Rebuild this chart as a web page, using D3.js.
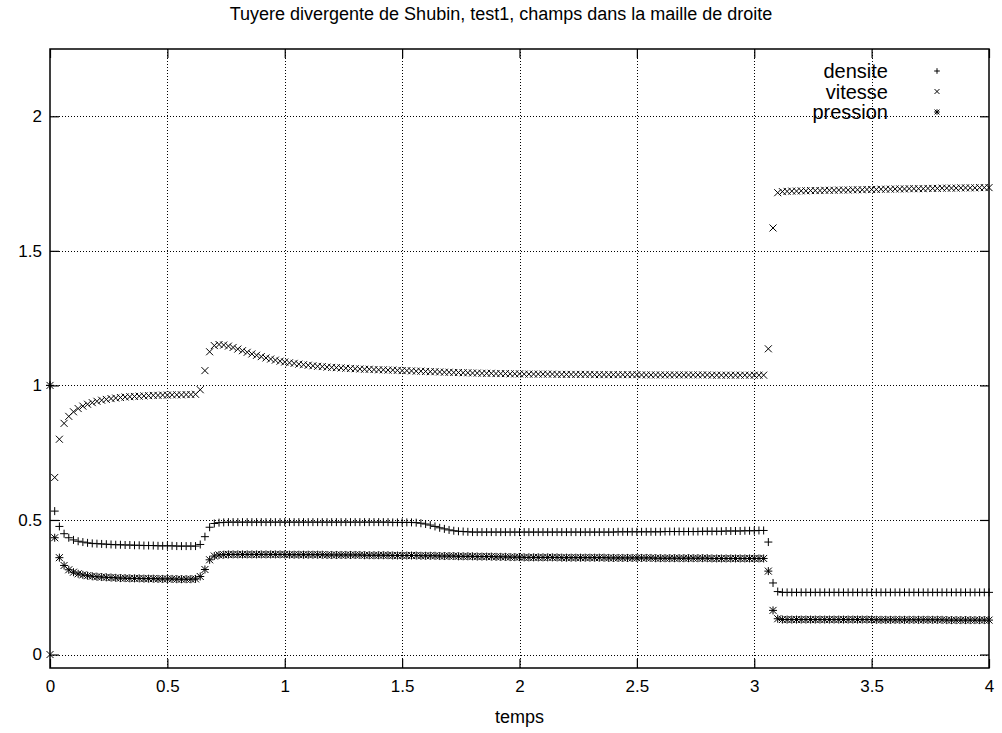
<!DOCTYPE html>
<html>
<head>
<meta charset="utf-8">
<script src="https://cdn.jsdelivr.net/npm/d3@7"></script>
<style>
  html, body { margin: 0; padding: 0; background: #fff; }
  svg { display: block; }
  text { font-family: "Liberation Sans", Arial, Helvetica, sans-serif; fill: #000; }
</style>
</head>
<body>
<script>
// ---------------- data ----------------
const title = "Tuyere divergente de Shubin, test1, champs dans la maille de droite";
const xLabel = "temps";
const timeStep = 0.02;           // output interval of the simulation (t = 0 ... 4)
const xTicks = [0, 0.5, 1, 1.5, 2, 2.5, 3, 3.5, 4];
const yTicks = [0, 0.5, 1, 1.5, 2];
const seriesNames = ["densite", "vitesse", "pression"];

const densite = [
  1.000,0.533,0.476,0.449,0.434,0.426,0.421,0.418,0.415,0.413,
  0.412,0.411,0.410,0.409,0.408,0.408,0.407,0.407,0.406,0.406,
  0.405,0.405,0.405,0.404,0.404,0.404,0.404,0.403,0.403,0.403,
  0.403,0.403,0.409,0.438,0.473,0.487,0.490,0.491,0.492,0.492,
  0.492,0.492,0.492,0.492,0.492,0.492,0.492,0.492,0.492,0.492,
  0.492,0.492,0.492,0.492,0.492,0.492,0.492,0.492,0.492,0.492,
  0.492,0.492,0.492,0.492,0.492,0.492,0.492,0.492,0.492,0.492,
  0.492,0.492,0.492,0.491,0.491,0.491,0.491,0.491,0.490,0.488,
  0.485,0.481,0.476,0.471,0.467,0.463,0.460,0.458,0.457,0.456,
  0.455,0.455,0.455,0.455,0.455,0.455,0.455,0.455,0.455,0.455,
  0.455,0.455,0.455,0.455,0.455,0.455,0.455,0.455,0.455,0.455,
  0.455,0.455,0.455,0.455,0.455,0.455,0.455,0.455,0.455,0.455,
  0.455,0.456,0.456,0.456,0.456,0.456,0.456,0.456,0.456,0.456,
  0.456,0.457,0.457,0.457,0.457,0.457,0.457,0.457,0.457,0.458,
  0.458,0.458,0.458,0.458,0.459,0.459,0.459,0.459,0.460,0.460,
  0.460,0.461,0.461,0.418,0.266,0.234,0.231,0.231,0.231,0.231,
  0.231,0.231,0.231,0.231,0.231,0.231,0.231,0.231,0.231,0.231,
  0.231,0.231,0.231,0.231,0.231,0.231,0.231,0.231,0.231,0.231,
  0.231,0.231,0.231,0.231,0.231,0.231,0.231,0.231,0.231,0.231,
  0.231,0.231,0.231,0.231,0.231,0.231,0.231,0.231,0.231,0.231,
  0.231
];

const vitesse = [
  0.000,0.658,0.800,0.859,0.885,0.902,0.914,0.923,0.930,0.936,
  0.941,0.945,0.948,0.951,0.953,0.955,0.957,0.958,0.959,0.960,
  0.961,0.962,0.963,0.963,0.964,0.964,0.965,0.965,0.965,0.966,
  0.966,0.967,0.984,1.055,1.125,1.148,1.152,1.150,1.146,1.141,
  1.135,1.129,1.123,1.117,1.112,1.107,1.102,1.098,1.094,1.090,
  1.087,1.084,1.082,1.079,1.077,1.075,1.073,1.071,1.070,1.068,
  1.067,1.066,1.065,1.064,1.063,1.062,1.061,1.060,1.060,1.059,
  1.058,1.058,1.057,1.057,1.056,1.055,1.055,1.054,1.053,1.053,
  1.052,1.051,1.051,1.050,1.049,1.049,1.048,1.048,1.047,1.047,
  1.046,1.046,1.045,1.045,1.045,1.044,1.044,1.044,1.043,1.043,
  1.043,1.042,1.042,1.042,1.042,1.042,1.042,1.042,1.041,1.041,
  1.041,1.041,1.041,1.041,1.041,1.041,1.040,1.040,1.040,1.040,
  1.040,1.040,1.040,1.040,1.040,1.040,1.039,1.039,1.039,1.039,
  1.039,1.039,1.039,1.039,1.039,1.039,1.039,1.039,1.039,1.039,
  1.039,1.038,1.038,1.038,1.038,1.038,1.038,1.038,1.038,1.038,
  1.038,1.038,1.038,1.136,1.585,1.716,1.720,1.721,1.722,1.722,
  1.723,1.723,1.724,1.724,1.724,1.725,1.725,1.725,1.726,1.726,
  1.726,1.727,1.727,1.727,1.728,1.728,1.728,1.729,1.729,1.729,
  1.730,1.730,1.730,1.731,1.731,1.731,1.731,1.732,1.732,1.732,
  1.733,1.733,1.733,1.733,1.734,1.734,1.734,1.734,1.735,1.735,
  1.735
];

const pression = [
  1.000,0.434,0.360,0.331,0.315,0.306,0.300,0.296,0.293,0.291,
  0.289,0.288,0.287,0.286,0.285,0.284,0.284,0.283,0.283,0.283,
  0.282,0.282,0.282,0.281,0.281,0.281,0.281,0.280,0.280,0.280,
  0.280,0.281,0.290,0.316,0.352,0.366,0.370,0.371,0.372,0.372,
  0.372,0.372,0.372,0.372,0.372,0.372,0.372,0.372,0.372,0.372,
  0.372,0.371,0.371,0.371,0.371,0.371,0.371,0.371,0.371,0.370,
  0.370,0.370,0.370,0.370,0.370,0.370,0.370,0.369,0.369,0.369,
  0.369,0.369,0.369,0.368,0.368,0.368,0.368,0.368,0.368,0.367,
  0.367,0.367,0.367,0.366,0.366,0.366,0.366,0.365,0.365,0.365,
  0.365,0.364,0.364,0.364,0.364,0.363,0.363,0.363,0.362,0.362,
  0.362,0.361,0.361,0.361,0.361,0.361,0.361,0.361,0.361,0.360,
  0.360,0.360,0.360,0.360,0.360,0.360,0.360,0.360,0.360,0.359,
  0.359,0.359,0.359,0.359,0.359,0.359,0.359,0.359,0.359,0.358,
  0.358,0.358,0.358,0.358,0.358,0.358,0.358,0.358,0.358,0.358,
  0.358,0.357,0.357,0.357,0.357,0.357,0.357,0.357,0.357,0.357,
  0.357,0.357,0.357,0.310,0.164,0.133,0.130,0.130,0.130,0.130,
  0.130,0.130,0.130,0.130,0.130,0.130,0.130,0.130,0.130,0.130,
  0.130,0.130,0.130,0.130,0.130,0.130,0.129,0.129,0.129,0.129,
  0.129,0.129,0.129,0.129,0.129,0.129,0.129,0.129,0.129,0.129,
  0.129,0.128,0.128,0.128,0.128,0.128,0.128,0.128,0.128,0.128,
  0.128
];

// ---------------- layout ----------------
const W = 1002, H = 733;
const plotL = 50, plotR = 989, plotT = 49, plotB = 668;

const x = d3.scaleLinear().domain([0, 4]).range([plotL, plotR]);
const y = d3.scaleLinear().domain([-0.05, 2.25]).range([plotB, plotT]);

const svg = d3.select("body").append("svg").attr("width", W).attr("height", H);

// grid (dotted)
const grid = svg.append("g").attr("stroke", "#000").attr("stroke-width", 1)
  .attr("stroke-dasharray", "1,2").attr("shape-rendering", "crispEdges");
grid.selectAll("line.gx").data(xTicks.filter(d => d > 0 && d < 4)).join("line")
  .attr("class", "gx")
  .attr("x1", d => Math.round(x(d)) + 0.5).attr("x2", d => Math.round(x(d)) + 0.5)
  .attr("y1", plotT).attr("y2", plotB);
grid.selectAll("line.gy").data(yTicks).join("line")
  .attr("class", "gy")
  .attr("y1", d => Math.round(y(d)) + 0.5).attr("y2", d => Math.round(y(d)) + 0.5)
  .attr("x1", plotL).attr("x2", plotR);

// axes with inward ticks, mirrored
const tickLen = 9;
const fmt = d => String(d);
const axB = svg.append("g").attr("transform", `translate(0,${plotB})`)
  .call(d3.axisBottom(x).tickValues(xTicks).tickSize(-tickLen).tickPadding(12).tickFormat(fmt));
const axT = svg.append("g").attr("transform", `translate(0,${plotT})`)
  .call(d3.axisTop(x).tickValues(xTicks).tickSize(-tickLen).tickFormat(""));
const axL = svg.append("g").attr("transform", `translate(${plotL},0)`)
  .call(d3.axisLeft(y).tickValues(yTicks).tickSize(-tickLen).tickPadding(8).tickFormat(fmt));
const axR = svg.append("g").attr("transform", `translate(${plotR},0)`)
  .call(d3.axisRight(y).tickValues(yTicks).tickSize(-tickLen).tickFormat(""));
[axB, axT, axL, axR].forEach(g => {
  g.select(".domain").remove();
  g.selectAll(".tick line").attr("stroke", "#000").attr("stroke-width", 1.2);
  g.selectAll("text").attr("font-family", "'Liberation Sans', Arial, sans-serif")
    .attr("font-size", 17).attr("fill", "#000");
});

// border
svg.append("rect").attr("x", plotL).attr("y", plotT)
  .attr("width", plotR - plotL).attr("height", plotB - plotT)
  .attr("fill", "none").attr("stroke", "#000").attr("stroke-width", 1.5);

// markers
const S = 4, SX = 3.5;
const plusPath = (px, py, s) => `M${px - s},${py}H${px + s}M${px},${py - s}V${py + s}`;
const timesPath = (px, py, s) => `M${px - s},${py - s}L${px + s},${py + s}M${px - s},${py + s}L${px + s},${py - s}`;
const markerFns = {
  densite: (px, py, k) => plusPath(px, py, S * k),
  vitesse: (px, py, k) => timesPath(px, py, SX * k),
  pression: (px, py, k) => plusPath(px, py, S * k) + timesPath(px, py, SX * k)
};
const seriesData = { densite, vitesse, pression };

const marks = svg.append("g").attr("fill", "none").attr("stroke", "#000").attr("stroke-width", 1);
seriesNames.forEach(name => {
  const vals = seriesData[name];
  marks.append("path")
    .attr("d", vals.map((v, i) => markerFns[name](x(i * timeStep), y(v), 1)).join(""));
});

// title and axis label
svg.append("text").attr("x", 501).attr("y", 20).attr("text-anchor", "middle")
  .attr("font-size", 18).text(title);
svg.append("text").attr("x", (plotL + plotR) / 2).attr("y", 723).attr("text-anchor", "middle")
  .attr("font-size", 18).text(xLabel);

// legend
const legY = [71, 91.5, 112];
const leg = svg.append("g");
seriesNames.forEach((name, i) => {
  leg.append("text").attr("x", 888).attr("y", legY[i] + 7).attr("text-anchor", "end")
    .attr("font-size", 20).text(name);
  leg.append("path").attr("d", markerFns[name](937, legY[i], 0.7))
    .attr("fill", "none").attr("stroke", "#000").attr("stroke-width", 1);
});
</script>
</body>
</html>
